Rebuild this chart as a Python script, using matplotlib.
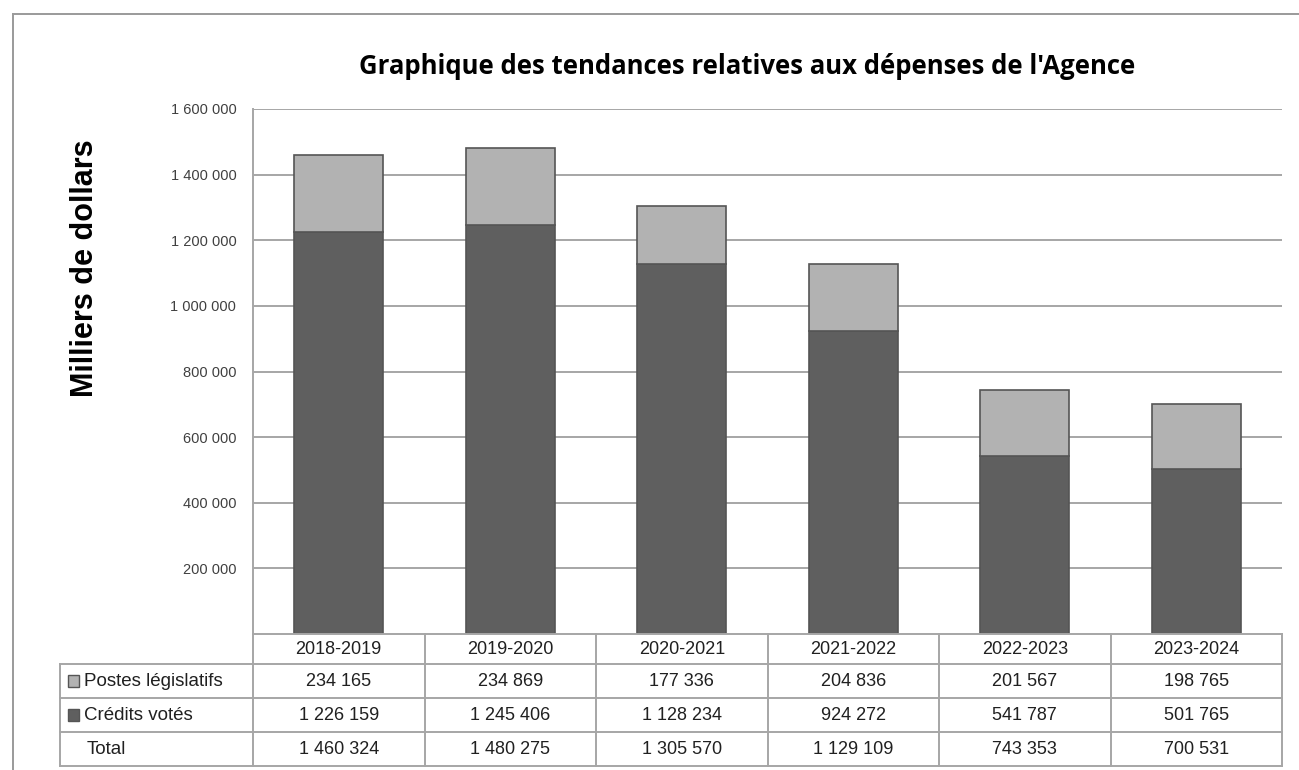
import numpy as np
import matplotlib.pyplot as plt
import matplotlib.transforms as mtransforms
from matplotlib.patches import Rectangle

# data
years = ["2018-2019", "2019-2020", "2020-2021", "2021-2022", "2022-2023", "2023-2024"]
postes = [234165, 234869, 177336, 204836, 201567, 198765]
credits = [1226159, 1245406, 1128234, 924272, 541787, 501765]
totals = [1460324, 1480275, 1305570, 1129109, 743353, 700531]
row_names = ["Postes législatifs", "Crédits votés", "Total"]
yticks = [200000, 400000, 600000, 800000, 1000000, 1200000, 1400000, 1600000]

light = "#b2b2b2"
dark = "#5f5f5f"
edge = "#555555"
linec = "#a6a6a6"


def fmt(v):
    return f"{v:,}".replace(",", " ")


fig = plt.figure(figsize=(12.99, 7.70), dpi=100)
ax = fig.add_axes([253 / 1299, 1 - 634 / 770, 1029 / 1299, 525 / 770])

x = np.arange(len(years))
ax.bar(x, credits, width=0.52, color=dark, edgecolor=edge, linewidth=1.2, zorder=3)
ax.bar(x, postes, bottom=credits, width=0.52, color=light, edgecolor=edge,
       linewidth=1.2, zorder=3)

ax.set_xlim(-0.5, len(years) - 0.5)
ax.set_ylim(0, 1600000)
ax.set_yticks(yticks)
ax.set_yticklabels([fmt(v) for v in yticks], fontsize=10.5, color="#404040",
                   family="Liberation Sans")
ax.tick_params(axis="y", length=0, pad=12)
ax.set_xticks([])
ax.grid(axis="y", color=linec, linewidth=1.4, zorder=0)
for s in ["top", "right", "bottom"]:
    ax.spines[s].set_visible(False)
ax.spines["left"].set_color(linec)
ax.spines["left"].set_linewidth(1.4)

fig.text(85 / 1299, 1 - 268 / 770, "Milliers de dollars", rotation=90,
         ha="center", va="center", fontsize=22, fontweight="bold",
         family="Liberation Sans")
fig.text(747 / 1299, 1 - 66 / 770,
         "Graphique des tendances relatives aux dépenses de l'Agence",
         ha="center", va="center", fontsize=18.5, fontweight="bold",
         family="Open Sans")

# data table under the plot
tr = mtransforms.blended_transform_factory(ax.transData, ax.transAxes)
px = 1 / 525
row_edges = [0, -30 * px, -64 * px, -98 * px, -132 * px]
label_left = -193 / 1029
lk = dict(color=linec, linewidth=1.4, clip_on=False, zorder=4)

ax.plot([-0.5, len(years) - 0.5], [0, 0], transform=tr, **lk)
for yv in row_edges[1:]:
    ax.plot([label_left, 1], [yv, yv], transform=ax.transAxes, **lk)
for i in range(len(years) + 1):
    ax.plot([i - 0.5, i - 0.5], [0, row_edges[-1]], transform=tr, **lk)
ax.plot([label_left, label_left], [row_edges[1], row_edges[-1]],
        transform=ax.transAxes, **lk)

tk = dict(ha="center", va="center", fontsize=13, family="Liberation Sans",
          color="#202020", clip_on=False)
rows = [postes, credits, totals]
for i, yr in enumerate(years):
    ax.text(i, (row_edges[0] + row_edges[1]) / 2, yr, transform=tr, **tk)
    for r, vals in enumerate(rows):
        ax.text(i, (row_edges[r + 1] + row_edges[r + 2]) / 2, fmt(vals[i]),
                transform=tr, **tk)

sq_colors = [light, dark, None]
for r, name in enumerate(row_names):
    yc = (row_edges[r + 1] + row_edges[r + 2]) / 2
    if sq_colors[r]:
        ax.add_patch(Rectangle((-185 / 1029, yc - 6 * px), 11 / 1029, 12 * px,
                               transform=ax.transAxes, facecolor=sq_colors[r],
                               edgecolor=edge, linewidth=1, clip_on=False))
        xt = -169 / 1029
    else:
        xt = -166 / 1029
    ax.text(xt, yc, name, transform=ax.transAxes, ha="left", va="center",
            fontsize=13.5, family="Liberation Sans", color="#202020")

# outer chart border
fig.add_artist(plt.Line2D([13 / 1299, 13 / 1299], [0, 1 - 14 / 770],
                          transform=fig.transFigure, color="#9a9a9a", linewidth=1.4))
fig.add_artist(plt.Line2D([13 / 1299, 1], [1 - 14 / 770, 1 - 14 / 770],
                          transform=fig.transFigure, color="#9a9a9a", linewidth=1.4))

fig.savefig("out.png", dpi=100)
